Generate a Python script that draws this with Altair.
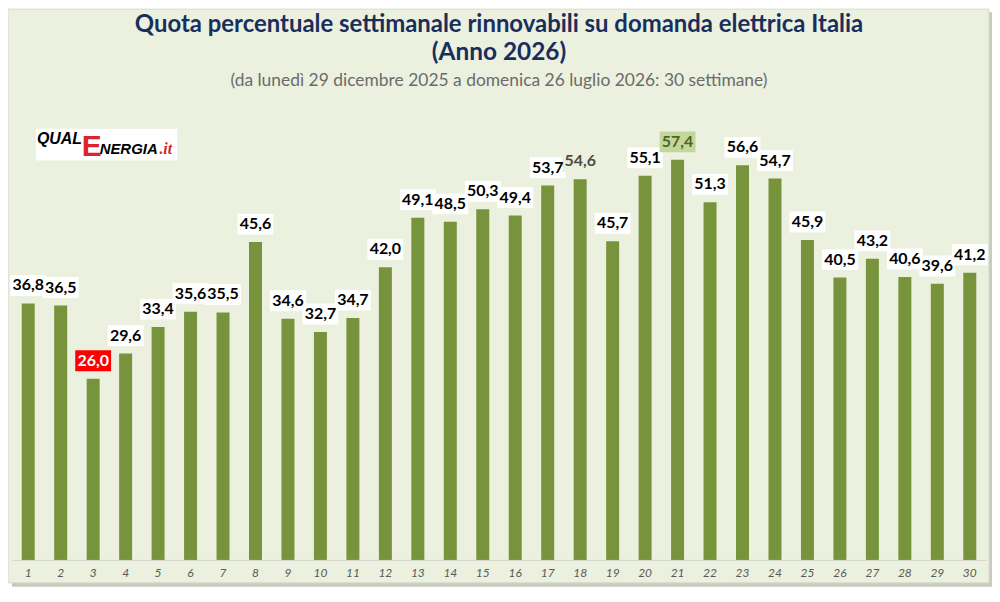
import altair as alt
import pandas as pd

# ---- data ----
weeks = list(range(1, 31))
values = [36.8, 36.5, 26.0, 29.6, 33.4, 35.6, 35.5, 45.6, 34.6, 32.7,
          34.7, 42.0, 49.1, 48.5, 50.3, 49.4, 53.7, 54.6, 45.7, 55.1,
          57.4, 51.3, 56.6, 54.7, 45.9, 40.5, 43.2, 40.6, 39.6, 41.2]
labels = [f"{v:.1f}".replace(".", ",") for v in values]

title_line1 = "Quota percentuale settimanale rinnovabili su domanda elettrica Italia"
title_line2 = "(Anno 2026)"
subtitle = "(da lunedì 29 dicembre 2025 a domenica 26 luglio 2026: 30 settimane)"

df = pd.DataFrame({"week": weeks, "value": values, "label": labels})
one = pd.DataFrame({"k": [0]})

BG = "#EBF1DE"
BAR = "#77933C"
NAVY = "#1A2E5E"

x = alt.X("week:O",
          scale=alt.Scale(paddingInner=0.6, paddingOuter=0.3),
          axis=alt.Axis(title=None, labelAngle=0, labelFontStyle="italic",
                        labelColor="#595959", labelFontSize=12, labelFont="Lato",
                        ticks=False, domainColor="#D3D6C8", labelPadding=8,
                        zindex=1))
y = alt.Y("value:Q", scale=alt.Scale(domain=[0, 65]), axis=None)

# frame + shadow (decoration)
shadow = alt.Chart(one).mark_rect(color="#C9CBBE").encode(
    x=alt.value(0), x2=alt.value(985), y=alt.value(-95), y2=alt.value(482))
frame = alt.Chart(one).mark_rect(color=BG, stroke="#D6D9CC", strokeWidth=1).encode(
    x=alt.value(-4), x2=alt.value(981), y=alt.value(-98), y2=alt.value(478))

# titles as text
t1 = alt.Chart(one).mark_text(font="Lato", fontWeight="bold", fontSize=24,
                              color=NAVY, baseline="middle").encode(
    x=alt.value(489), y=alt.value(-82), text=alt.value(title_line1))
t2 = alt.Chart(one).mark_text(font="Lato", fontWeight="bold", fontSize=24.5,
                              color=NAVY, baseline="middle").encode(
    x=alt.value(489), y=alt.value(-54), text=alt.value(title_line2))
t3 = alt.Chart(one).mark_text(font="Lato", fontSize=17.5, color="#6B6B6B",
                              baseline="middle").encode(
    x=alt.value(489), y=alt.value(-26), text=alt.value(subtitle))

base = alt.Chart(df)
bars = base.mark_bar(color=BAR).encode(x=x, y=y)

box_color = (alt.when(alt.datum.week == 3).then(alt.value("#FF0000"))
             .when(alt.datum.week == 21).then(alt.value("#C4D79B"))
             .when(alt.datum.week == 18).then(alt.value(BG))
             .otherwise(alt.value("white")))
text_color = (alt.when(alt.datum.week == 3).then(alt.value("white"))
              .when(alt.datum.week == 21).then(alt.value("#4F6228"))
              .when(alt.datum.week == 18).then(alt.value("#4D4D40"))
              .otherwise(alt.value("black")))

boxes = base.mark_tick(thickness=21, size=36, yOffset=-18, opacity=1).encode(
    x=x, y=y, color=box_color)
texts = base.mark_text(font="Lato", fontWeight="bold", fontSize=16, dy=-18,
                       baseline="middle").encode(
    x=x, y=y, text="label:N", color=text_color)

# logo (decoration)
logo_bg = alt.Chart(one).mark_rect(color="white").encode(
    x=alt.value(24), x2=alt.value(166), y=alt.value(22), y2=alt.value(54))
logo1 = alt.Chart(one).mark_text(font="Liberation Sans", fontWeight="bold",
                                 fontStyle="italic", fontSize=16, align="left",
                                 baseline="alphabetic", color="black").encode(
    x=alt.value(25), y=alt.value(37), text=alt.value("QUAL"))
logo2 = alt.Chart(one).mark_text(font="Liberation Sans", fontWeight="bold",
                                 fontSize=30, align="left",
                                 baseline="alphabetic", color="#D8262C").encode(
    x=alt.value(70), y=alt.value(49), text=alt.value("E"))
logo3 = alt.Chart(one).mark_text(font="Liberation Sans", fontWeight="bold",
                                 fontStyle="italic", fontSize=15, align="left",
                                 baseline="alphabetic", color="black").encode(
    x=alt.value(88), y=alt.value(47), text=alt.value("NERGIA"))
logo4 = alt.Chart(one).mark_text(font="Liberation Serif", fontWeight="bold",
                                 fontStyle="italic", fontSize=16, align="left",
                                 baseline="alphabetic", color="#D8262C").encode(
    x=alt.value(148), y=alt.value(47), text=alt.value(".it"))

chart = alt.layer(shadow, frame, t1, t2, t3, logo_bg, logo1, logo2, logo3, logo4,
                  bars, boxes, texts).properties(
    width=978, height=455,
    autosize=alt.AutoSizeParams(type="none"),
    padding={"left": 4, "top": 98, "right": 6, "bottom": 28},
    background="white",
).configure_view(strokeWidth=0)

chart.save("out.html", embed_options={"renderer": "svg", "actions": False})
